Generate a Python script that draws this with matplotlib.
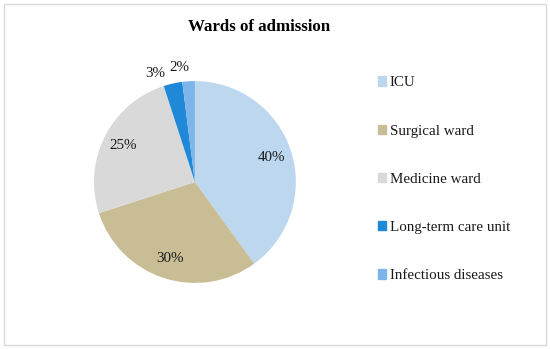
import matplotlib.pyplot as plt
import matplotlib.patches as mpatches
import numpy as np

plt.rcParams['font.family'] = ['Liberation Serif', 'DejaVu Serif']

# wards of admission (%)
wards = ['ICU', 'Surgical ward', 'Medicine ward', 'Long-term care unit', 'Infectious diseases']
shares = [40, 30, 25, 3, 2]
colors = ['#BDD7EE', '#C9BD96', '#D9D9D9', '#1F88D8', '#7DB5EA']

fig = plt.figure(figsize=(5.5, 3.49), dpi=100)

# light frame around the chart area
fig.patches.append(mpatches.Rectangle((4 / 550, 4 / 349), 542 / 550, 341 / 349,
                                      transform=fig.transFigure, fill=False,
                                      edgecolor='#D9D9D9', linewidth=1))

ax = fig.add_axes([0.1709, 0.189, 0.367, 0.579])
wedges, texts, autotexts = ax.pie(shares, colors=colors, startangle=90, counterclock=False,
                                  autopct='%1.0f%%', pctdistance=0.8,
                                  wedgeprops={'linewidth': 0},
                                  textprops={'fontsize': 10.8, 'color': '#1a1a1a'})
ax.set_xlim(-1, 1)
ax.set_ylim(-1, 1)
ax.set_aspect('equal')

# the two small slices get their labels outside the pie
for w, t, shift in zip(wedges[3:], autotexts[3:], [7, 4]):
    ang = np.deg2rad((w.theta1 + w.theta2) / 2 + shift)
    t.set_position((1.16 * np.cos(ang), 1.12 * np.sin(ang) + 0.02))

fig.text(0.472, 0.922, 'Wards of admission', ha='center', va='center',
         fontsize=12.2, fontweight='bold', color='black')

handles = [mpatches.Patch(color=c) for c in colors]
fig.legend(handles, wards, loc='upper left', bbox_to_anchor=(0.662, 0.82),
           frameon=False, fontsize=10.8, handlelength=0.55, handleheight=0.55,
           handletextpad=0.25, labelspacing=2.35, labelcolor='#1a1a1a')

fig.savefig('out.png', dpi=100)
